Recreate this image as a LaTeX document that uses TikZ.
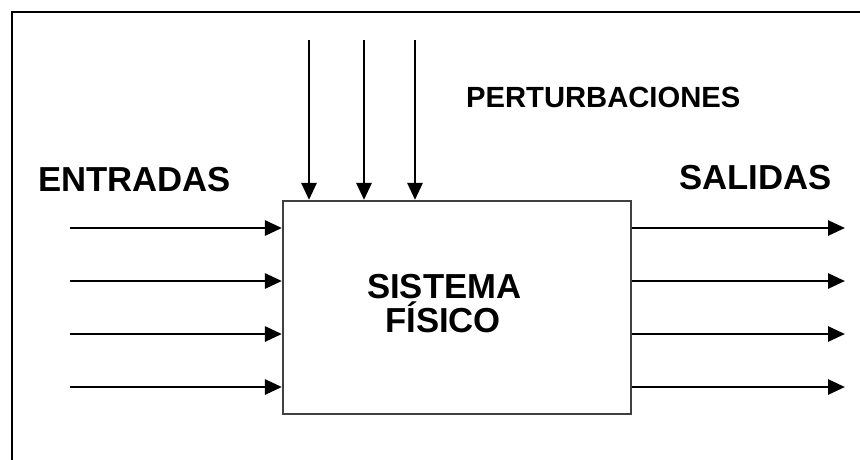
\documentclass[tikz,border=0pt]{standalone}
\usepackage{fontspec}
\setmainfont{Liberation Sans}
\usetikzlibrary{arrows.meta}
\begin{document}
\begin{tikzpicture}[x=1pt,y=-1pt,
  lbl/.style={inner sep=0pt,anchor=base west,font=\bfseries\fontsize{34.7}{40}\selectfont},
  flow/.style={line width=2.8pt,-{Triangle[length=17pt,width=15pt]}},
  sysbox/.style={draw=black!75,line width=2.2pt,minimum width=348pt,minimum height=213pt,inner sep=0pt}]
\useasboundingbox (0,0) rectangle (860,459);
\fill[white] (0,0) rectangle (860,459);
% outer frame
\coordinate (fb) at (12,470);
\coordinate (fc) at (12,12);
\coordinate (fr) at (870,12);
\draw[line width=2.4pt] (fb) -- (fc) -- (fr);
% system box
\node[sysbox] (sys) at (457,307.5) {};
\node[lbl] (t1) at (367,298) {SISTEMA};
\node[lbl] (t2) at (385,332) {FÍSICO};
% labels
\node[lbl] (ent) at (38,191) {ENTRADAS};
\node[lbl] (sal) at (679,189) {SALIDAS};
\node[lbl,font=\bfseries\fontsize{29.2}{34}\selectfont] (per) at (466,107) {PERTURBACIONES};
% inputs and outputs
\foreach \i/\y in {1/228,2/281,3/334,4/387}{
  \coordinate (in\i) at (70,\y);
  \draw[flow] (in\i) -- (sys.west |- in\i);
  \coordinate (out\i) at (845,\y);
  \draw[flow] (sys.east |- in\i) -- (out\i);
}
% disturbances
\foreach \i/\x in {1/309,2/364,3/415}{
  \coordinate (p\i) at (\x,40);
  \draw[flow] (p\i) -- (sys.north -| p\i);
}
\end{tikzpicture}
\end{document}
